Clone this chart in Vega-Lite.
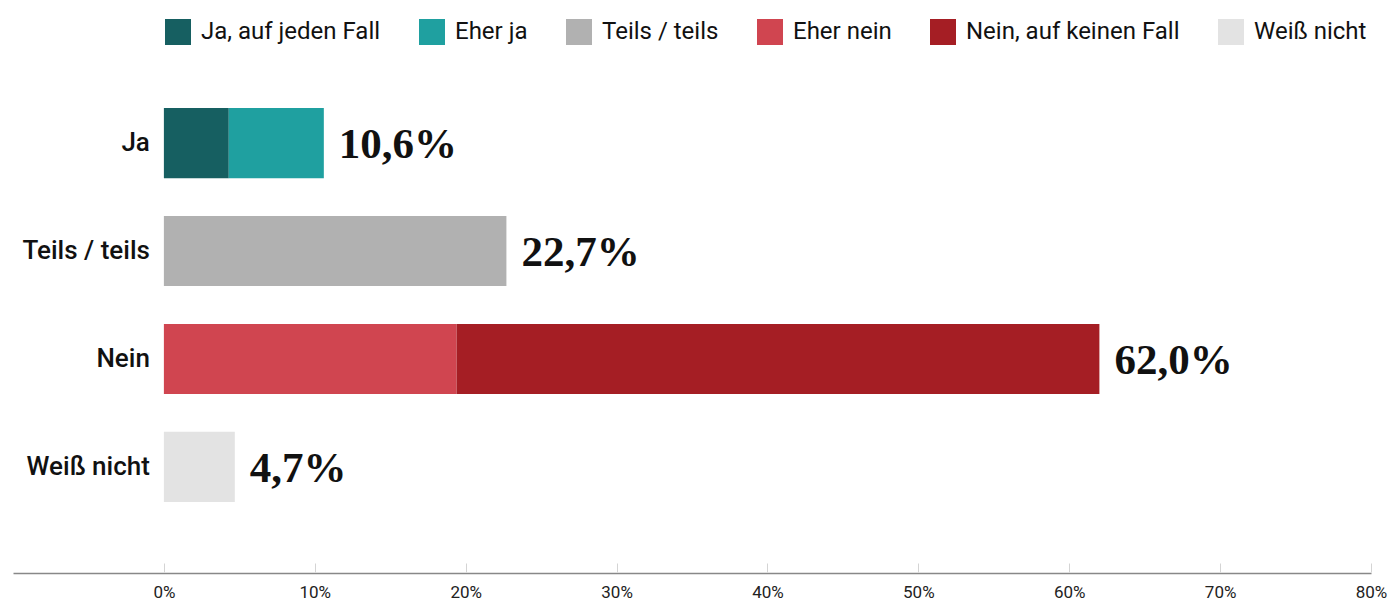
{
  "$schema": "https://vega.github.io/schema/vega-lite/v6.json",
  "autosize": "none",
  "width": 1358,
  "height": 536,
  "padding": {"left": 13, "top": 37, "right": 25, "bottom": 27},
  "background": "white",
  "config": {
    "view": {"stroke": null},
    "font": "Roboto"
  },
  "datasets": {
    "segments": [
      {"frage": "Ja", "antwort": "Ja, auf jeden Fall", "wert": 4.3, "ord": 1},
      {"frage": "Ja", "antwort": "Eher ja", "wert": 6.3, "ord": 2},
      {"frage": "Teils / teils", "antwort": "Teils / teils", "wert": 22.7, "ord": 3},
      {"frage": "Nein", "antwort": "Eher nein", "wert": 19.4, "ord": 4},
      {"frage": "Nein", "antwort": "Nein, auf keinen Fall", "wert": 42.6, "ord": 5},
      {"frage": "Weiß nicht", "antwort": "Weiß nicht", "wert": 4.7, "ord": 6}
    ],
    "totals": [
      {"frage": "Ja", "gesamt": 10.6, "label": "10,6%"},
      {"frage": "Teils / teils", "gesamt": 22.7, "label": "22,7%"},
      {"frage": "Nein", "gesamt": 62.0, "label": "62,0%"},
      {"frage": "Weiß nicht", "gesamt": 4.7, "label": "4,7%"}
    ]
  },
  "resolve": {"axis": {"x": "independent"}},
  "encoding": {
    "y": {
      "field": "frage",
      "type": "nominal",
      "sort": ["Ja", "Teils / teils", "Nein", "Weiß nicht"],
      "scale": {"paddingInner": 0.35, "paddingOuter": 0.657},
      "axis": null
    }
  },
  "layer": [
    {
      "data": {"name": "segments"},
      "mark": {"type": "bar"},
      "encoding": {
        "x": {
          "field": "wert",
          "type": "quantitative",
          "stack": "zero",
          "scale": {"domain": [-10, 80], "nice": false},
          "axis": {
            "orient": "bottom",
            "title": null,
            "values": [0, 10, 20, 30, 40, 50, 60, 70, 80],
            "labelExpr": "datum.value + '%'",
            "grid": false,
            "ticks": false,
            "domainColor": "#888888",
            "domainWidth": 1.5,
            "labelFont": "Roboto",
            "labelFontSize": 17,
            "labelColor": "#222222",
            "labelPadding": 11,
            "labelFlush": false
          }
        },
        "order": {"field": "ord", "type": "quantitative"},
        "color": {
          "field": "antwort",
          "type": "nominal",
          "scale": {
            "domain": ["Ja, auf jeden Fall", "Eher ja", "Teils / teils", "Eher nein", "Nein, auf keinen Fall", "Weiß nicht"],
            "range": ["#165f61", "#1fa0a0", "#b1b1b1", "#d04550", "#a51e24", "#e3e3e3"]
          },
          "legend": {
            "title": null,
            "orient": "none",
            "direction": "horizontal",
            "legendX": 152,
            "legendY": -18,
            "symbolType": "square",
            "symbolSize": 676,
            "symbolStrokeWidth": 0,
            "symbolOpacity": 1,
            "labelFont": "Roboto",
            "labelFontSize": 24,
            "labelColor": "#111111",
            "labelOffset": 10,
            "columnPadding": 38,
            "labelLimit": 400
          }
        }
      }
    },
    {
      "data": {"name": "totals"},
      "mark": {"type": "text", "align": "left", "baseline": "middle", "dx": 15, "dy": 2, "font": "Liberation Serif", "fontSize": 43, "fontWeight": "bold", "color": "#111111"},
      "encoding": {
        "x": {"field": "gesamt", "type": "quantitative", "axis": null},
        "text": {"field": "label"}
      }
    },
    {
      "data": {"name": "totals"},
      "mark": {"type": "text", "align": "right", "baseline": "middle", "dx": -14, "font": "Roboto", "fontSize": 26, "fontWeight": 500, "color": "#111111"},
      "encoding": {
        "x": {
          "datum": 0,
          "type": "quantitative",
          "axis": {
            "orient": "bottom",
            "offset": -10,
            "title": null,
            "values": [0, 10, 20, 30, 40, 50, 60, 70, 80],
            "grid": false,
            "domain": false,
            "labels": false,
            "ticks": true,
            "tickColor": "#d4d4d4",
            "tickSize": 9,
            "tickWidth": 1
          }
        },
        "text": {"field": "frage"}
      }
    }
  ]
}
